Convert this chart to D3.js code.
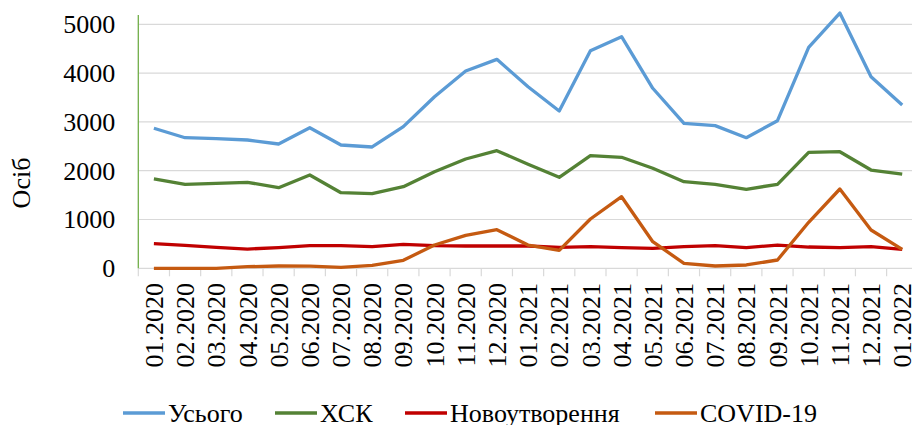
<!DOCTYPE html>
<html><head><meta charset="utf-8">
<script src="https://cdn.jsdelivr.net/npm/d3@7/dist/d3.min.js"></script>
<style>body{margin:0;background:#fff}svg{display:block}
text{font-family:"Liberation Serif","DejaVu Serif","Noto Serif",serif}</style>
</head><body>
<svg id="c" width="912" height="425"></svg>
<script>
const months = ["01.2020","02.2020","03.2020","04.2020","05.2020","06.2020","07.2020","08.2020","09.2020","10.2020","11.2020","12.2020","01.2021","02.2021","03.2021","04.2021","05.2021","06.2021","07.2021","08.2021","09.2021","10.2021","11.2021","12.2021","01.2022"];
const total = [2869,2676,2656,2629,2547,2881,2527,2486,2902,3516,4043,4282,3721,3223,4459,4746,3689,2971,2923,2676,3025,4529,5230,3926,3346];
const xsk = [1830,1721,1742,1762,1652,1912,1549,1529,1672,1980,2240,2410,2131,1865,2307,2275,2049,1775,1721,1619,1721,2377,2389,2014,1932];
const neo = [504,471,430,395,422,463,463,443,492,463,457,457,457,430,443,422,410,443,463,422,477,436,422,443,389];
const covid = [0,0,0,33,47,45,20,61,164,477,676,791,477,369,1010,1467,545,102,47,68,170,943,1625,785,389];
const yTicks = [0,1000,2000,3000,4000,5000];
const seriesNames = ["Усього","ХСК","Новоутворення","COVID-19"];
const seriesColors = ["#5b9bd5","#548235","#c00000","#c55a11"];
const seriesData = [total, xsk, neo, covid];

const svg = d3.select("#c");
const x = d3.scaleBand().domain(months).range([138.3, 917.8]);
const y = d3.scaleLinear().domain([0,5000]).range([268.3, 24.3]);

// gridlines
svg.append("g").selectAll("line").data(yTicks).join("line")
  .attr("x1",138.3).attr("x2",912).attr("y1",d=>y(d)).attr("y2",d=>y(d))
  .attr("stroke","#d9d9d9").attr("stroke-width",1.2);

// x axis ticks
const bounds = months.map((m,i)=>x.range()[0]+i*x.step()).concat([x.range()[1]]);
svg.append("g").selectAll("line").data(bounds).join("line")
  .attr("x1",d=>d).attr("x2",d=>d).attr("y1",y(0)).attr("y2",y(0)+8)
  .attr("stroke","#d9d9d9").attr("stroke-width",1.2);
svg.append("g").selectAll("text").data(months).join("text")
  .attr("transform",d=>`translate(${x(d)+x.bandwidth()/2},283) rotate(-90)`)
  .attr("text-anchor","end").attr("dy","0.35em")
  .attr("font-size",26).attr("fill","#000")
  .text(d=>d);

// y axis
const ya = svg.append("g").attr("transform","translate(138.3,0)")
  .call(d3.axisLeft(y).tickValues(yTicks).tickSize(0).tickPadding(23).tickFormat(d3.format("d")));
ya.select(".domain").remove();
ya.attr("font-family",null).attr("font-size",null);
ya.selectAll("text").attr("font-size",26).attr("fill","#000");
svg.append("line").attr("x1",138.3).attr("x2",138.3).attr("y1",15).attr("y2",y(0))
  .attr("stroke","#70ad47").attr("stroke-width",1.3);

svg.append("text").attr("transform","translate(30,183) rotate(-90)")
  .attr("text-anchor","middle").attr("font-size",26).text("Осіб");

// lines
const line = d3.line().x((d,i)=>x(months[i])+x.bandwidth()/2).y(d=>y(d));
svg.append("g").selectAll("path").data(seriesData).join("path")
  .attr("d",d=>line(d)).attr("fill","none")
  .attr("stroke",(d,i)=>seriesColors[i]).attr("stroke-width",3.3)
  .attr("stroke-linejoin","round");

// legend
const legX = [123,275,405,655];
const lg = svg.append("g").selectAll("g").data(seriesNames).join("g")
  .attr("transform",(d,i)=>`translate(${legX[i]},413)`);
lg.append("line").attr("x1",0).attr("x2",42).attr("stroke",(d,i)=>seriesColors[i]).attr("stroke-width",3.3);
lg.append("text").attr("x",45).attr("dy","0.35em").attr("font-size",26).text(d=>d);
</script>
</body></html>
